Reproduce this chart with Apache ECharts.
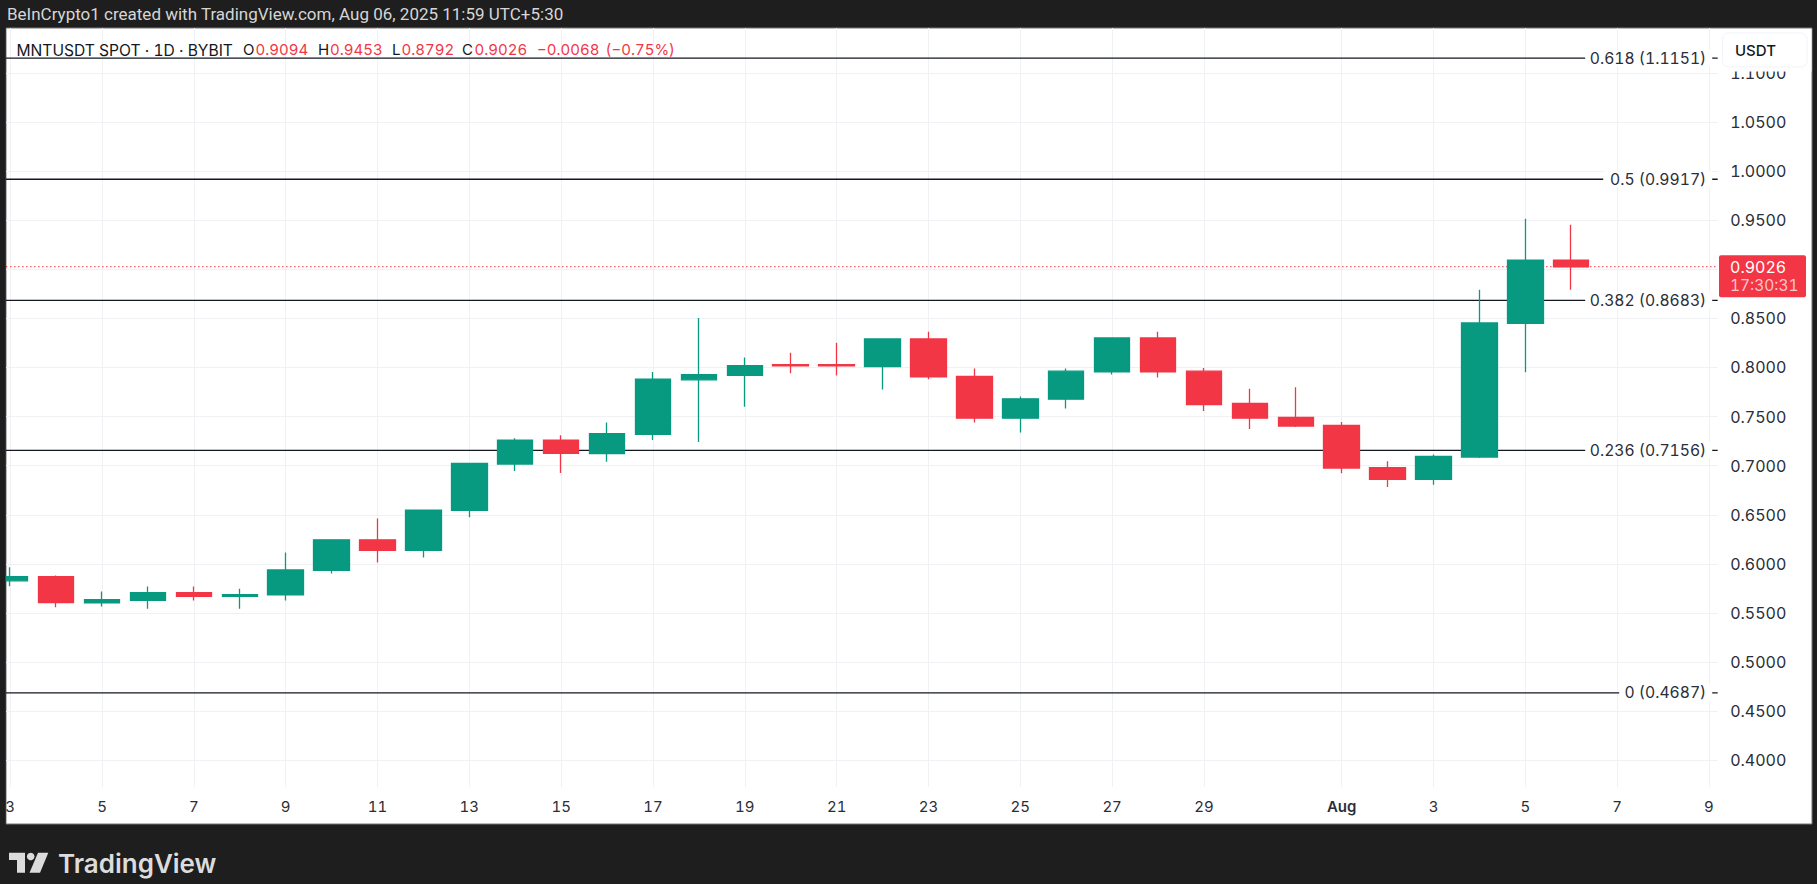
<!DOCTYPE html>
<html>
<head>
<meta charset="utf-8">
<style>html,body{margin:0;padding:0;background:#1e1e1e;overflow:hidden}#c{width:1817px;height:884px}
#c svg text{font-feature-settings:"tnum" 1 !important;font-variant-numeric:tabular-nums !important}</style>
<script src="https://cdn.jsdelivr.net/npm/echarts@6/dist/echarts.min.js"></script>
</head>
<body>
<div id="c"></div>
<script>
// Day index: July d = d, August d = 31 + d
const days = [3,4,5,6,7,8,9,10,11,12,13,14,15,16,17,18,19,20,21,22,23,24,25,26,27,28,29,30,31,32,33,34,35,36,37];
const opens  = [.5827,.5871,.5602,.5629,.5707,.5670,.5684,.5935,.6245,.6139,.6544,.7017,.7259,.7122,.7318,.7874,.7921,.8029,.8029,.8009,.8290,.7908,.7484,.7677,.7955,.8300,.7962,.7633,.7491,.7410,.6980,.6861,.7088,.8450,.9094];
const closes = [.5871,.5605,.5636,.5707,.5670,.5687,.5939,.6245,.6139,.6548,.7024,.7259,.7126,.7325,.7880,.7928,.8019,.8016,.8016,.8290,.7904,.7484,.7681,.7962,.8300,.7955,.7623,.7484,.7403,.6976,.6861,.7095,.8453,.9094,.9026];
const lows   = [.5772,.5558,.5565,.5544,.5626,.5544,.5626,.5901,.6014,.6065,.6476,.6946,.6925,.7041,.7261,.7240,.7599,.7941,.7918,.7775,.7880,.7440,.7339,.7582,.7928,.7897,.7556,.7373,.7393,.6922,.6783,.6807,.7078,.7952,.8792];
const highs  = [.5966,.5881,.5718,.5769,.5769,.5748,.6116,.6245,.6463,.6548,.7027,.7279,.7310,.7440,.7955,.8504,.8101,.8151,.8253,.8290,.8365,.7989,.7704,.7989,.8304,.8365,.7996,.7783,.7799,.7444,.7044,.7115,.8792,.9514,.9453];
const xTickDays = [3,5,7,9,11,13,15,17,19,21,23,25,27,29,32,34,36,38,40];
const xTickLabels = ['3','5','7','9','11','13','15','17','19','21','23','25','27','29','Aug','3','5','7','9'];
const yTicks = [.4,.45,.5,.55,.6,.65,.7,.75,.8,.85,.9,.95,1,1.05,1.1];
const fibRatios = ['0.618','0.5','0.382','0.236','0'];
const fibPrices = [1.1151,.9917,.8683,.7156,.4687];
const lastPrice = 0.9026;
const countdown = '17:30:31';
const legendSegments = [
  ['MNTUSDT SPOT · 1D · BYBIT',16.5,'k',15.6],['O',243,'k',15],['0.9094',255.6,'r',15],['H',318,'k',15],['0.9453',330,'r',15],
  ['L',392,'k',15],['0.8792',401.5,'r',15],['C',462,'k',15],['0.9026',474.5,'r',15],['−0.0068',537,'r',15],['(−0.75%)',605.6,'r',15]
];
const xMin = 2.9085, xMax = 40.19, yMin = .3728, yMax = 1.1457;
const GREEN = '#089981', RED = '#f23645', FONT = 'Inter, "Noto Sans", sans-serif', INK = '#2a2e39', GRID = '#f0f1f4';

const candleData = days.map((d,i)=>[d,opens[i],closes[i],lows[i],highs[i]]);
const fibLabelWidths = [115,97,115,115,81];
const fibSeries = fibPrices.map((p,i)=>({
  type:'line', name:fibRatios[i], z:2, silent:true, animation:false,
  symbol:'circle', symbolSize:0, showSymbol:true, showAllSymbol:true,
  lineStyle:{color:'#131722',width:1.3},
  data:[[xMin,p],{value:[xMax,p],label:{
    show:true,position:'left',distance:5.5,
    formatter:fibRatios[i]+' ('+p.toFixed(4)+')',
    color:INK,fontFamily:FONT,fontSize:15.7,backgroundColor:'#fff',padding:[0,6,0,6],
    width:fibLabelWidths[i],align:'right'
  }}]
}));

const chart = echarts.init(document.getElementById('c'),null,{width:1817,height:884,renderer:'svg'});
chart.setOption({
  animation:false,
  backgroundColor:'#1e1e1e',
  title:[
    {left:7,top:5,padding:0,text:'BeInCrypto1 created with TradingView.com, Aug 06, 2025 11:59 UTC+5:30',
     textStyle:{color:'#d6d6d6',fontFamily:'Roboto',fontSize:17,fontWeight:400}},
    ...legendSegments.map(s=>({left:s[1],top:42,padding:0,text:s[0],
      textStyle:{color:s[2]==='k'?'#131722':RED,fontFamily:FONT,fontSize:s[3],fontWeight:400}}))
  ],
  grid:{left:6,right:99.3,top:28,bottom:97,containLabel:false},
  xAxis:{type:'value',min:xMin,max:xMax,position:'bottom',
    axisLine:{show:false},
    axisTick:{show:false,customValues:xTickDays},
    splitLine:{show:true,lineStyle:{color:GRID,width:1}},
    axisLabel:{customValues:xTickDays,margin:12,color:INK,fontFamily:FONT,fontSize:15,hideOverlap:false,
      formatter:v=>{const s=xTickLabels[xTickDays.indexOf(v)];return s==='Aug'?'{b|Aug}':s;},
      rich:{b:{fontWeight:600,color:INK,fontFamily:FONT,fontSize:15}}}},
  yAxis:{type:'value',min:yMin,max:yMax,position:'right',
    axisLine:{show:false},
    axisTick:{show:false,customValues:yTicks},
    splitLine:{show:true,lineStyle:{color:GRID,width:1}},
    axisLabel:{customValues:yTicks,margin:12.5,color:INK,fontFamily:FONT,fontSize:16,align:'left',
      formatter:v=>v.toFixed(4)}},
  series:[
    ...fibSeries,
    {type:'line',name:'last',z:3,silent:true,symbol:'circle',symbolSize:0,showSymbol:true,showAllSymbol:true,
     lineStyle:{color:RED,width:1,type:[1.5,2.5]},
     data:[[xMin,lastPrice],{value:[xMax,lastPrice],label:{
       show:true,position:'right',distance:1.3,offset:[0,9.5],
       formatter:'{a|'+lastPrice.toFixed(4)+'}\n{b|'+countdown+'}',
       backgroundColor:RED,borderRadius:2,padding:[2,11,2,11],
       rich:{a:{color:'#fff',fontFamily:FONT,fontSize:16,lineHeight:19,width:65},
             b:{color:'rgba(255,255,255,.72)',fontFamily:FONT,fontSize:15.5,lineHeight:19,width:65}}
     }}]},
    {type:'candlestick',name:'MNTUSDT',z:5,silent:true,barWidth:36,
     encode:{x:0,y:[1,2,3,4]},
     itemStyle:{color:GREEN,color0:RED,borderColor:GREEN,borderColor0:RED,borderWidth:1.3},
     data:candleData}
  ],
  graphic:[
    {type:'rect',z:-10,silent:true,shape:{x:6,y:28,width:1806,height:796},style:{fill:'#fff',stroke:'#777',lineWidth:1}},
    {type:'rect',z:1000,silent:true,shape:{x:0,y:24,width:5.5,height:803},style:{fill:'#1e1e1e'}},
    {type:'rect',z:1000,silent:true,shape:{x:1718,y:29,width:93.5,height:42.5},style:{fill:'#fff'}},
    {type:'rect',z:1000,silent:true,shape:{x:1722.5,y:33,width:84.5,height:34,r:6},style:{fill:'#fff',stroke:'#f0f3fa',lineWidth:1}},
    {type:'text',z:1001,silent:true,style:{x:1735,y:50,text:'USDT',fill:'#131722',font:'500 15px '+FONT,textVerticalAlign:'middle'}},
    {type:'polygon',z:1001,silent:true,shape:{points:[[9,852.7],[25,852.7],[25,872.7],[17,872.7],[17,860],[9,860]]},style:{fill:'#dcdcdc'}},
    {type:'circle',z:1001,silent:true,shape:{cx:30.7,cy:856.5,r:3.8},style:{fill:'#dcdcdc'}},
    {type:'polygon',z:1001,silent:true,shape:{points:[[38,852.7],[48.3,852.7],[40,872.7],[29.5,872.7]]},style:{fill:'#dcdcdc'}},
    {type:'text',z:1001,silent:true,style:{x:58,y:863.5,text:'TradingView',fill:'#dcdcdc',font:'600 26px '+FONT,textVerticalAlign:'middle'}}
  ]
});
</script>
</body>
</html>
